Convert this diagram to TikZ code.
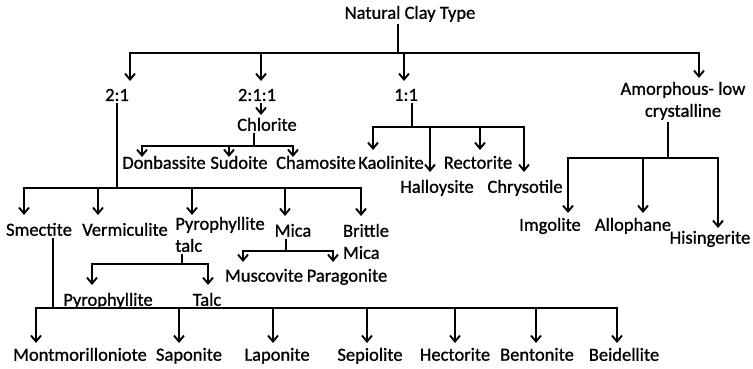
\documentclass[tikz,border=0pt]{standalone}
\usepackage{fontspec}
\setmainfont{Carlito}[FakeBold=0.9]
\usetikzlibrary{arrows.meta}

\begin{document}
\begin{tikzpicture}[
  x=1pt,y=-1pt,
  >={Straight Barb[length=6pt,width=10pt]},
  line width=1.9pt,
  every node/.style={font=\fontsize{18.5}{22}\selectfont},
  lbl/.style={anchor=north,inner sep=1pt,align=center},
  link/.style={->,shorten >=6pt}
]
\useasboundingbox (0,0) rectangle (753,369);

% ---- root ----
\node[lbl] (ctype) at (410,4) {Natural Clay Type};
\coordinate (btop) at (398,53);
\draw ([xshift=-12pt]ctype.south) -- (btop);

% ---- main types ----
\node[lbl] (t21)  at (117,87) {2:1};
\node[lbl] (t211) at (257,87) {2:1:1};
\node[lbl] (t11)  at (406,87) {1:1};
\node[lbl] (amor) at (683,80) {Amorphous- low\\crystalline};

\draw[link] (btop) -| ([xshift=13pt]t21.north);
\draw[link] ([xshift=4pt]t211.north |- btop) -- ([xshift=4pt]t211.north);
\draw[link] ([xshift=-2pt]t11.north |- btop) -- ([xshift=-2pt]t11.north);
\draw[link,shorten >=2pt] (btop) -| ([xshift=16pt]amor.north);

% ---- 2:1:1 branch ----
\node[lbl] (chlor) at (267,116) {Chlorite};
\draw[link,shorten >=1pt] ([xshift=4pt]t211.south) -- ([xshift=-6pt]chlor.north);

\node[lbl] (don)  at (164,154) {Donbassite};
\node[lbl] (sud)  at (239,154) {Sudoite};
\node[lbl] (cham) at (316,154) {Chamosite};
\coordinate (bchl) at (254,146);
\draw ([xshift=-13pt]chlor.south) -- (bchl);
\draw[link,shorten >=-3pt] (bchl) -| ([xshift=-22pt]don.north);
\draw[link,shorten >=-3pt] ([xshift=-10pt]sud.north |- bchl) -- ([xshift=-10pt]sud.north);
\draw[link,shorten >=-3pt] (bchl) -| ([xshift=-23pt]cham.north);

% ---- 1:1 branch ----
\node[lbl] (kao) at (391,154) {Kaolinite};
\node[lbl] (hal) at (437,178) {Halloysite};
\node[lbl] (rec) at (478,154) {Rectorite};
\node[lbl] (chr) at (525,178) {Chrysotile};
\coordinate (b11) at (412,127);
\draw ([xshift=6pt]t11.south) -- (b11);
\draw[link,shorten >=4pt] (b11) -| ([xshift=-18pt]kao.north);
\draw[link] ([xshift=-7pt]hal.north |- b11) -- ([xshift=-7pt]hal.north);
\draw[link,shorten >=4pt] ([xshift=2pt]rec.north |- b11) -- ([xshift=2pt]rec.north);
\draw[link] (b11) -| ([xshift=-1pt]chr.north);

% ---- amorphous branch ----
\node[lbl] (img)  at (550,216) {Imgolite};
\node[lbl] (allo) at (633,216) {Allophane};
\node[lbl] (his)  at (710,229) {Hisingerite};
\coordinate (bamo) at (668,158);
\draw ([xshift=-15pt]amor.south) -- (bamo);
\draw[link,shorten >=3pt] (bamo) -| ([xshift=18pt]img.north);
\draw[link,shorten >=3pt] ([xshift=10pt]allo.north |- bamo) -- ([xshift=10pt]allo.north);
\draw[link,shorten >=1pt] (bamo) -| ([xshift=8pt]his.north);

% ---- 2:1 branch ----
\node[lbl] (sme)  at (39,221)  {Smectite};
\node[lbl] (vrm)  at (125,221) {Vermiculite};
\node[lbl,align=left] (pyt) at (220,215) {Pyrophyllite\\talc};
\node[lbl] (mica) at (293,222) {Mica};
\node[lbl,align=left] (brm) at (366,222) {Brittle\\Mica};
\coordinate (b21) at (117,188);
\draw (t21.south) -- (b21);
\draw[link] (b21) -| ([xshift=-15pt]sme.north);
\draw[link] ([xshift=-27pt]vrm.north |- b21) -- ([xshift=-27pt]vrm.north);
\draw[link,shorten >=0pt] ([xshift=-28pt]pyt.north |- b21) -- ([xshift=-28pt]pyt.north);
\draw[link] ([xshift=-8pt]mica.north |- b21) -- ([xshift=-8pt]mica.north);
\draw[link] (b21) -| ([xshift=-5pt]brm.north);

% mica
\node[lbl] (mus) at (264,267) {Muscovite};
\node[lbl] (par) at (347,267) {Paragonite};
\coordinate (bmic) at (286,251);
\draw ([xshift=-7pt]mica.south) -- (bmic);
\draw[link,shorten >=5pt] (bmic) -| ([xshift=-21pt]mus.north);
\draw[link,shorten >=5pt] (bmic) -| ([xshift=-14pt]par.north);

% pyrophyllite talc
\node[lbl] (pyr)  at (108,291) {Pyrophyllite};
\node[lbl] (talc) at (207,291) {Talc};
\coordinate (bpyt) at (182,264);
\draw ([xshift=-38pt]pyt.south) -- (bpyt);
\draw[link] (bpyt) -| ([xshift=-16pt]pyr.north);
\draw[link] (bpyt) -| ([xshift=1pt]talc.north);

% smectite
\node[lbl] (mon) at (80,346)  {Montmorilloniote};
\node[lbl] (sap) at (189,346) {Saponite};
\node[lbl] (lap) at (277,346) {Laponite};
\node[lbl] (sep) at (370,346) {Sepiolite};
\node[lbl] (hec) at (455,346) {Hectorite};
\node[lbl] (ben) at (537,346) {Bentonite};
\node[lbl] (bei) at (624,346) {Beidellite};
\coordinate (bsme) at (53,308);
\draw ([xshift=14pt]sme.south) -- (bsme);
\draw[link,shorten >=3pt] (bsme) -| ([xshift=-44pt]mon.north);
\draw[link,shorten >=3pt] ([xshift=-10pt]sap.north |- bsme) -- ([xshift=-10pt]sap.north);
\draw[link,shorten >=3pt] ([xshift=-4pt]lap.north |- bsme) -- ([xshift=-4pt]lap.north);
\draw[link,shorten >=3pt] ([xshift=-3pt]sep.north |- bsme) -- ([xshift=-3pt]sep.north);
\draw[link,shorten >=3pt] (hec.north |- bsme) -- (hec.north);
\draw[link,shorten >=3pt] ([xshift=-1pt]ben.north |- bsme) -- ([xshift=-1pt]ben.north);
\draw[link,shorten >=3pt] (bsme) -| ([xshift=-7pt]bei.north);

\end{tikzpicture}
\end{document}
